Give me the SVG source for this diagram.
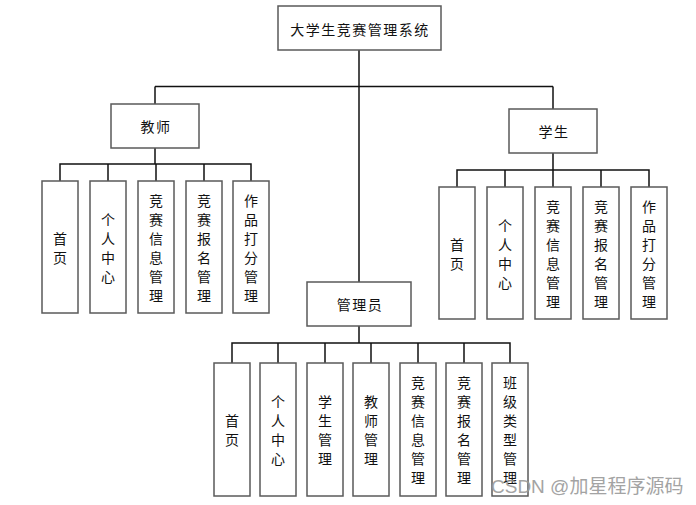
<svg xmlns="http://www.w3.org/2000/svg" width="696" height="505" viewBox="0 0 696 505">
<style>
.box{fill:#fff;stroke:#5a5a5a;stroke-width:1.5}
.t{font-family:"Noto Sans CJK SC","Microsoft YaHei",sans-serif;font-size:14px;fill:#111;text-anchor:middle;dominant-baseline:central}
.tt{letter-spacing:1.5px}
.ln{stroke:#111;stroke-width:1.5;fill:none}
.wm{font-family:"Liberation Sans","Noto Sans CJK SC",sans-serif;font-size:19px;fill:#9a9a9a;opacity:0.9}
</style>
<rect width="696" height="505" fill="#fff"/>
<g id="connectors">
<path class="ln" d="M359 50V282"/>
<path class="ln" d="M155 86.5H553"/>
<path class="ln" d="M155 86.5V104"/>
<path class="ln" d="M553 86.5V109"/>
<path class="ln" d="M155 148V164M60 181V164H251V181M108 164V181M156 164V181M204 164V181"/>
<path class="ln" d="M553 153V170M457 187V170H649V187M505 170V187M553 170V187M601 170V187"/>
<path class="ln" d="M359 326V343M232 363V343H510V363M278 343V363M325 343V363M371 343V363M418 343V363M464 343V363"/>
</g>
<g id="root">
<rect class="box" x="278" y="6" width="163" height="44"/>
<text class="t tt" x="360" y="29">大学生竞赛管理系统</text>
</g>
<g id="teacher">
<rect class="box" x="111" y="104" width="88" height="44"/>
<text class="t tt" x="156" y="126">教师</text>
</g>
<g id="student">
<rect class="box" x="509" y="109" width="88" height="44"/>
<text class="t tt" x="554" y="131">学生</text>
</g>
<g id="admin">
<rect class="box" x="307" y="282" width="104" height="44"/>
<text class="t tt" x="360" y="304">管理员</text>
</g>
<g id="t1"><rect class="box" x="42" y="181" width="36" height="132"/><text class="t"><tspan x="60" y="237.5">首</tspan><tspan x="60" dy="19">页</tspan></text></g>
<g id="t2"><rect class="box" x="90" y="181" width="36" height="132"/><text class="t"><tspan x="108" y="218.5">个</tspan><tspan x="108" dy="19">人</tspan><tspan x="108" dy="19">中</tspan><tspan x="108" dy="19">心</tspan></text></g>
<g id="t3"><rect class="box" x="138" y="181" width="36" height="132"/><text class="t"><tspan x="156" y="199.5">竞</tspan><tspan x="156" dy="19">赛</tspan><tspan x="156" dy="19">信</tspan><tspan x="156" dy="19">息</tspan><tspan x="156" dy="19">管</tspan><tspan x="156" dy="19">理</tspan></text></g>
<g id="t4"><rect class="box" x="186" y="181" width="36" height="132"/><text class="t"><tspan x="204" y="199.5">竞</tspan><tspan x="204" dy="19">赛</tspan><tspan x="204" dy="19">报</tspan><tspan x="204" dy="19">名</tspan><tspan x="204" dy="19">管</tspan><tspan x="204" dy="19">理</tspan></text></g>
<g id="t5"><rect class="box" x="233" y="181" width="36" height="132"/><text class="t"><tspan x="251" y="199.5">作</tspan><tspan x="251" dy="19">品</tspan><tspan x="251" dy="19">打</tspan><tspan x="251" dy="19">分</tspan><tspan x="251" dy="19">管</tspan><tspan x="251" dy="19">理</tspan></text></g>
<g id="s1"><rect class="box" x="439" y="187" width="36" height="132"/><text class="t"><tspan x="457" y="243.5">首</tspan><tspan x="457" dy="19">页</tspan></text></g>
<g id="s2"><rect class="box" x="487" y="187" width="36" height="132"/><text class="t"><tspan x="505" y="224.5">个</tspan><tspan x="505" dy="19">人</tspan><tspan x="505" dy="19">中</tspan><tspan x="505" dy="19">心</tspan></text></g>
<g id="s3"><rect class="box" x="535" y="187" width="36" height="132"/><text class="t"><tspan x="553" y="205.5">竞</tspan><tspan x="553" dy="19">赛</tspan><tspan x="553" dy="19">信</tspan><tspan x="553" dy="19">息</tspan><tspan x="553" dy="19">管</tspan><tspan x="553" dy="19">理</tspan></text></g>
<g id="s4"><rect class="box" x="583" y="187" width="36" height="132"/><text class="t"><tspan x="601" y="205.5">竞</tspan><tspan x="601" dy="19">赛</tspan><tspan x="601" dy="19">报</tspan><tspan x="601" dy="19">名</tspan><tspan x="601" dy="19">管</tspan><tspan x="601" dy="19">理</tspan></text></g>
<g id="s5"><rect class="box" x="631" y="187" width="36" height="132"/><text class="t"><tspan x="649" y="205.5">作</tspan><tspan x="649" dy="19">品</tspan><tspan x="649" dy="19">打</tspan><tspan x="649" dy="19">分</tspan><tspan x="649" dy="19">管</tspan><tspan x="649" dy="19">理</tspan></text></g>
<g id="a1"><rect class="box" x="214" y="363" width="36" height="133"/><text class="t"><tspan x="232" y="420">首</tspan><tspan x="232" dy="19">页</tspan></text></g>
<g id="a2"><rect class="box" x="260" y="363" width="36" height="133"/><text class="t"><tspan x="278" y="401">个</tspan><tspan x="278" dy="19">人</tspan><tspan x="278" dy="19">中</tspan><tspan x="278" dy="19">心</tspan></text></g>
<g id="a3"><rect class="box" x="307" y="363" width="36" height="133"/><text class="t"><tspan x="325" y="401">学</tspan><tspan x="325" dy="19">生</tspan><tspan x="325" dy="19">管</tspan><tspan x="325" dy="19">理</tspan></text></g>
<g id="a4"><rect class="box" x="353" y="363" width="36" height="133"/><text class="t"><tspan x="371" y="401">教</tspan><tspan x="371" dy="19">师</tspan><tspan x="371" dy="19">管</tspan><tspan x="371" dy="19">理</tspan></text></g>
<g id="a5"><rect class="box" x="400" y="363" width="36" height="133"/><text class="t"><tspan x="418" y="382">竞</tspan><tspan x="418" dy="19">赛</tspan><tspan x="418" dy="19">信</tspan><tspan x="418" dy="19">息</tspan><tspan x="418" dy="19">管</tspan><tspan x="418" dy="19">理</tspan></text></g>
<g id="a6"><rect class="box" x="446" y="363" width="36" height="133"/><text class="t"><tspan x="464" y="382">竞</tspan><tspan x="464" dy="19">赛</tspan><tspan x="464" dy="19">报</tspan><tspan x="464" dy="19">名</tspan><tspan x="464" dy="19">管</tspan><tspan x="464" dy="19">理</tspan></text></g>
<g id="a7"><rect class="box" x="492" y="363" width="36" height="133"/><text class="t"><tspan x="510" y="382">班</tspan><tspan x="510" dy="19">级</tspan><tspan x="510" dy="19">类</tspan><tspan x="510" dy="19">型</tspan><tspan x="510" dy="19">管</tspan><tspan x="510" dy="19">理</tspan></text></g>
<text class="wm" x="491" y="493">CSDN @加星程序源码</text>
</svg>
